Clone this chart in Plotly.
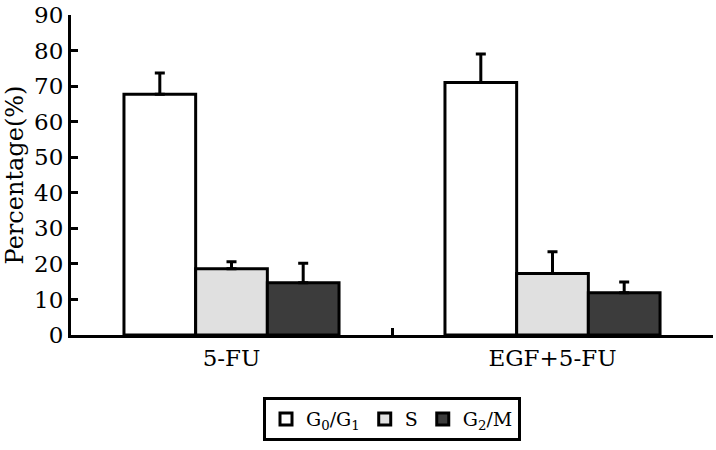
import plotly.graph_objects as go

groups = ["5-FU", "EGF+5-FU"]
series_names = ["G<sub>0</sub>/G<sub>1</sub>", "S", "G<sub>2</sub>/M"]
g0g1 = [67.7, 71.0]
g0g1_err = [6.0, 8.0]
s_phase = [18.6, 17.3]
s_err = [2.0, 6.1]
g2m = [14.7, 11.9]
g2m_err = [5.5, 3.0]
colors = ["#ffffff", "#e0e0e0", "#3c3c3c"]
y_ticks = [0, 10, 20, 30, 40, 50, 60, 70, 80, 90]

FONT = "DejaVu Serif"

fig = go.Figure()
for name, vals, errs, col in zip(series_names, [g0g1, s_phase, g2m],
                                 [g0g1_err, s_err, g2m_err], colors):
    fig.add_trace(go.Bar(
        x=groups, y=vals, name=name,
        marker=dict(color=col, line=dict(color="black", width=3)),
        error_y=dict(type="data", array=errs, arrayminus=[0] * len(errs),
                     symmetric=False, color="black", thickness=3, width=5),
    ))

fig.update_layout(
    width=716, height=450,
    margin=dict(l=71, r=3, t=15, b=115, autoexpand=False),
    paper_bgcolor="white", plot_bgcolor="white",
    barmode="group", bargap=0.33, bargroupgap=0,
    font=dict(family=FONT, size=23, color="black"),
    showlegend=True,
    legend=dict(orientation="h", x=0.5, xanchor="center", y=-0.194, yanchor="top",
                bordercolor="black", borderwidth=3, bgcolor="white",
                font=dict(family=FONT, size=19, color="black"),
                itemwidth=30, tracegroupgap=0, traceorder="normal"),
    xaxis=dict(
        showline=True, linecolor="black", linewidth=3, automargin=False,
        ticks="inside", tickson="boundaries", ticklen=7, tickwidth=3, tickcolor="black",
        range=[-0.5, 1.5], showgrid=False, zeroline=False,
        tickfont=dict(family=FONT, size=23),
    ),
    yaxis=dict(
        range=[0, 90], tickvals=y_ticks, ticktext=[str(v) for v in y_ticks],
        showline=True, linecolor="black", linewidth=3, automargin=False,
        ticks="inside", ticklen=7, tickwidth=3, tickcolor="black",
        showgrid=False, zeroline=False,
        title=dict(text="Percentage(%)", font=dict(family=FONT, size=24), standoff=4),
        tickfont=dict(family=FONT, size=23),
    ),
)

fig.write_html("out.html", config={"displayModeBar": False},
               post_script="document.body.style.margin='0';")
